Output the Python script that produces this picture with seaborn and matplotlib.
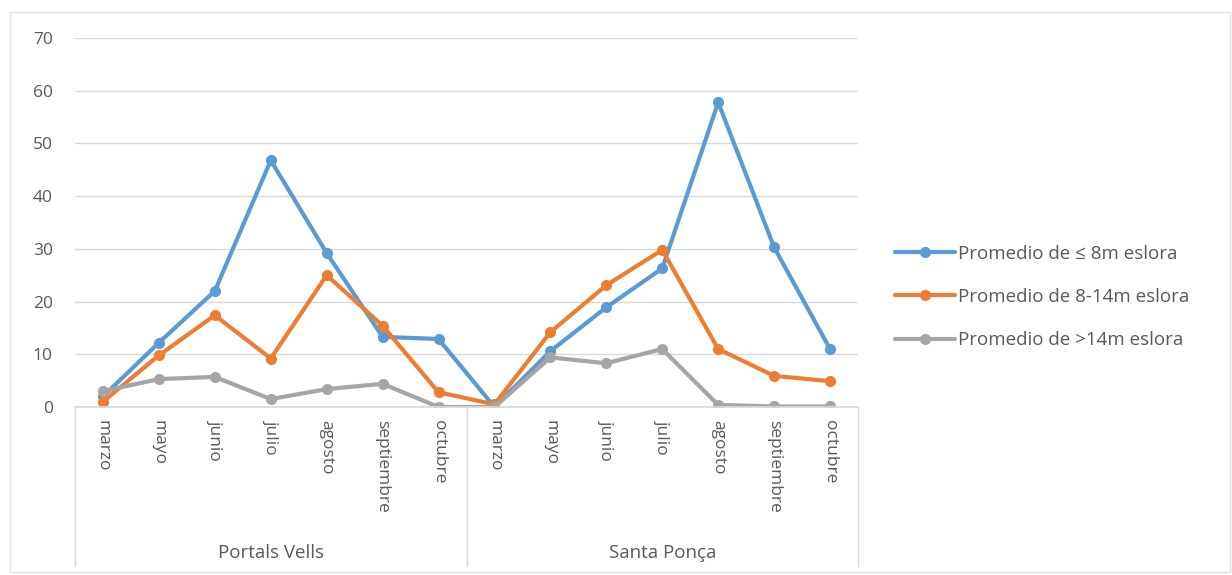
import pandas as pd
import numpy as np
import matplotlib.pyplot as plt
import seaborn as sns
from matplotlib.lines import Line2D
from matplotlib.patches import Rectangle

# Datos
meses = ["marzo", "mayo", "junio", "julio", "agosto", "septiembre", "octubre"]
lugares = ["Portals Vells", "Santa Ponça"]
series = ["Promedio de ≤ 8m eslora", "Promedio de 8-14m eslora", "Promedio de >14m eslora"]

hasta_8m = [2, 12.2, 22, 46.8, 29.2, 13.3, 12.9, 0, 10.6, 18.9, 26.3, 57.8, 30.3, 11]
de_8_14m = [1, 9.8, 17.4, 9.2, 25, 15.4, 2.8, 0.5, 14.2, 23.1, 29.8, 11, 5.9, 4.9]
mas_14m = [3, 5.3, 5.7, 1.5, 3.4, 4.4, 0, 0, 9.4, 8.3, 11, 0.4, 0.1, 0.1]

colores = ["#5B9BD5", "#ED7D31", "#A5A5A5"]
gris_texto = "#595959"
fs = 12.5

sns.set_theme(style="white")
plt.rcParams["font.family"] = ["Open Sans", "DejaVu Sans"]

etiquetas_x = meses * len(lugares)
idx = np.arange(len(etiquetas_x))

df = pd.DataFrame({
    "idx": np.tile(idx, 3),
    "valor": hasta_8m + de_8_14m + mas_14m,
    "serie": np.repeat(series, len(idx)),
})

fig = plt.figure(figsize=(12.32, 5.75), dpi=100)
ax = fig.add_axes([75 / 1232, 1 - 407 / 575, 783 / 1232, 369 / 575])

sns.lineplot(
    data=df, x="idx", y="valor", hue="serie", hue_order=series,
    palette=colores, marker="o", markersize=8, markeredgewidth=0,
    linewidth=3, ax=ax, legend=False,
)

ax.set_xlim(-0.5, len(idx) - 0.5)
ax.set_ylim(0, 70)
ax.set_yticks(range(0, 71, 10))
ax.yaxis.grid(True, color="#D9D9D9", linewidth=1)
ax.set_axisbelow(True)
for s in ["top", "right", "left"]:
    ax.spines[s].set_visible(False)
ax.spines["bottom"].set_color("#D9D9D9")
ax.set_xlabel("")
ax.set_ylabel("")
ax.tick_params(axis="y", length=0, pad=16, labelsize=fs, labelcolor=gris_texto)
ax.set_xticks(idx)
ax.set_xticklabels(etiquetas_x, rotation=-90, ha="center", va="top")
ax.tick_params(axis="x", length=0, pad=9, labelsize=fs, labelcolor=gris_texto)

# separadores y etiquetas de grupo
trans = ax.get_xaxis_transform()
for x in [-0.5, 6.5, 13.5]:
    ax.add_line(Line2D([x, x], [0, -0.43], transform=trans, color="#D9D9D9",
                       linewidth=1, clip_on=False))
for i, lugar in enumerate(lugares):
    ax.text(i * 7 + 3, -0.395, lugar, transform=trans, ha="center", va="center",
            fontsize=13.5, color=gris_texto)

# leyenda
handles = [Line2D([], [], color=c, marker="o", markersize=8, markeredgewidth=0,
                  linewidth=3) for c in colores]
fig.legend(handles, series, loc="center left", bbox_to_anchor=(878 / 1232, 1 - 297 / 575),
           frameon=False, fontsize=13.5, labelcolor=gris_texto, handlelength=3.2,
           handletextpad=0.15, labelspacing=1.35)

# borde del area del grafico
fig.add_artist(Rectangle((10 / 1232, 3 / 575), 1220 / 1232, 560 / 575,
                         transform=fig.transFigure, fill=False,
                         edgecolor="#E3E3E3", linewidth=1))

fig.savefig("out.png", dpi=100)
